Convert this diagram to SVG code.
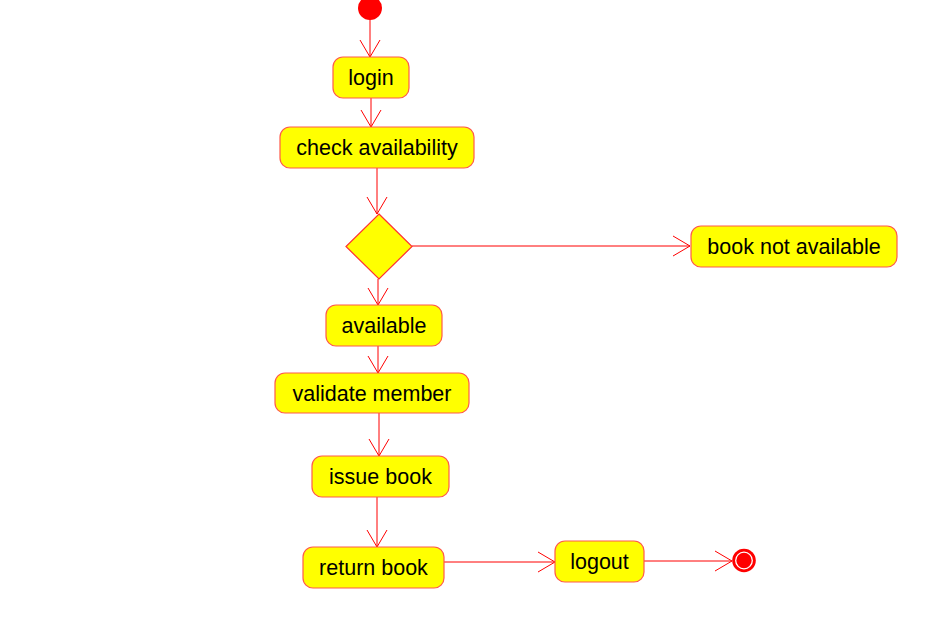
<svg xmlns="http://www.w3.org/2000/svg" width="942" height="637" viewBox="0 0 942 637">
<style>
.n rect{fill:#ffff00;stroke:#ff5a4a;stroke-width:1.2}
.n polygon{fill:#ffff00;stroke:#ff3030;stroke-width:1.2}
.n text{font-family:"Liberation Sans",Arial,sans-serif;font-size:21.5px;fill:#000;text-anchor:middle}
#edges line{stroke:#ff0000;stroke-width:1;marker-end:url(#arr)}
</style>
<defs>
<marker id="arr" viewBox="0 0 18 22" refX="17" refY="11" markerWidth="18" markerHeight="22" markerUnits="userSpaceOnUse" orient="auto">
<path d="M0,1 L17,11 L0,21" fill="none" stroke="#ff0000" stroke-width="1"/>
</marker>
</defs>
<rect width="942" height="637" fill="#fff"/>
<g id="edges">
<line x1="370" y1="19" x2="370" y2="57"/>
<line x1="371" y1="98" x2="371" y2="127"/>
<line x1="377" y1="168" x2="377" y2="214"/>
<line x1="412" y1="246" x2="690" y2="246"/>
<line x1="378" y1="279" x2="378" y2="305"/>
<line x1="378" y1="346" x2="378" y2="373"/>
<line x1="379" y1="413" x2="379" y2="456"/>
<line x1="377" y1="497" x2="377" y2="547"/>
<line x1="444" y1="562" x2="555" y2="562"/>
<line x1="644" y1="561" x2="732" y2="561"/>
</g>
<g id="start" class="n"><circle cx="370" cy="8" r="12" fill="#ff0000"/></g>
<g id="login" class="n"><rect x="333" y="57" width="76" height="41" rx="10"/><text x="371" y="85">login</text></g>
<g id="check" class="n"><rect x="280" y="127" width="194" height="41" rx="10"/><text x="377" y="155">check availability</text></g>
<g id="decision" class="n"><polygon points="379,214 412,246.5 379,279 346,246.5"/></g>
<g id="notavail" class="n"><rect x="691" y="226" width="206" height="41" rx="10"/><text x="794" y="254">book not available</text></g>
<g id="available" class="n"><rect x="326" y="305" width="116" height="41" rx="10"/><text x="384" y="333">available</text></g>
<g id="validate" class="n"><rect x="275" y="373" width="194" height="40" rx="10"/><text x="372" y="401">validate member</text></g>
<g id="issue" class="n"><rect x="312" y="456" width="137" height="41" rx="10"/><text x="380.5" y="484">issue book</text></g>
<g id="return" class="n"><rect x="303" y="547" width="141" height="41" rx="10"/><text x="373.5" y="575">return book</text></g>
<g id="logout" class="n"><rect x="555" y="541" width="89" height="41" rx="10"/><text x="599.5" y="569">logout</text></g>
<g id="end" class="n"><circle cx="744" cy="560.5" r="11.8" fill="#ff0000"/><circle cx="744" cy="560.5" r="8.3" fill="none" stroke="#fff" stroke-width="1.3"/></g>
</svg>
